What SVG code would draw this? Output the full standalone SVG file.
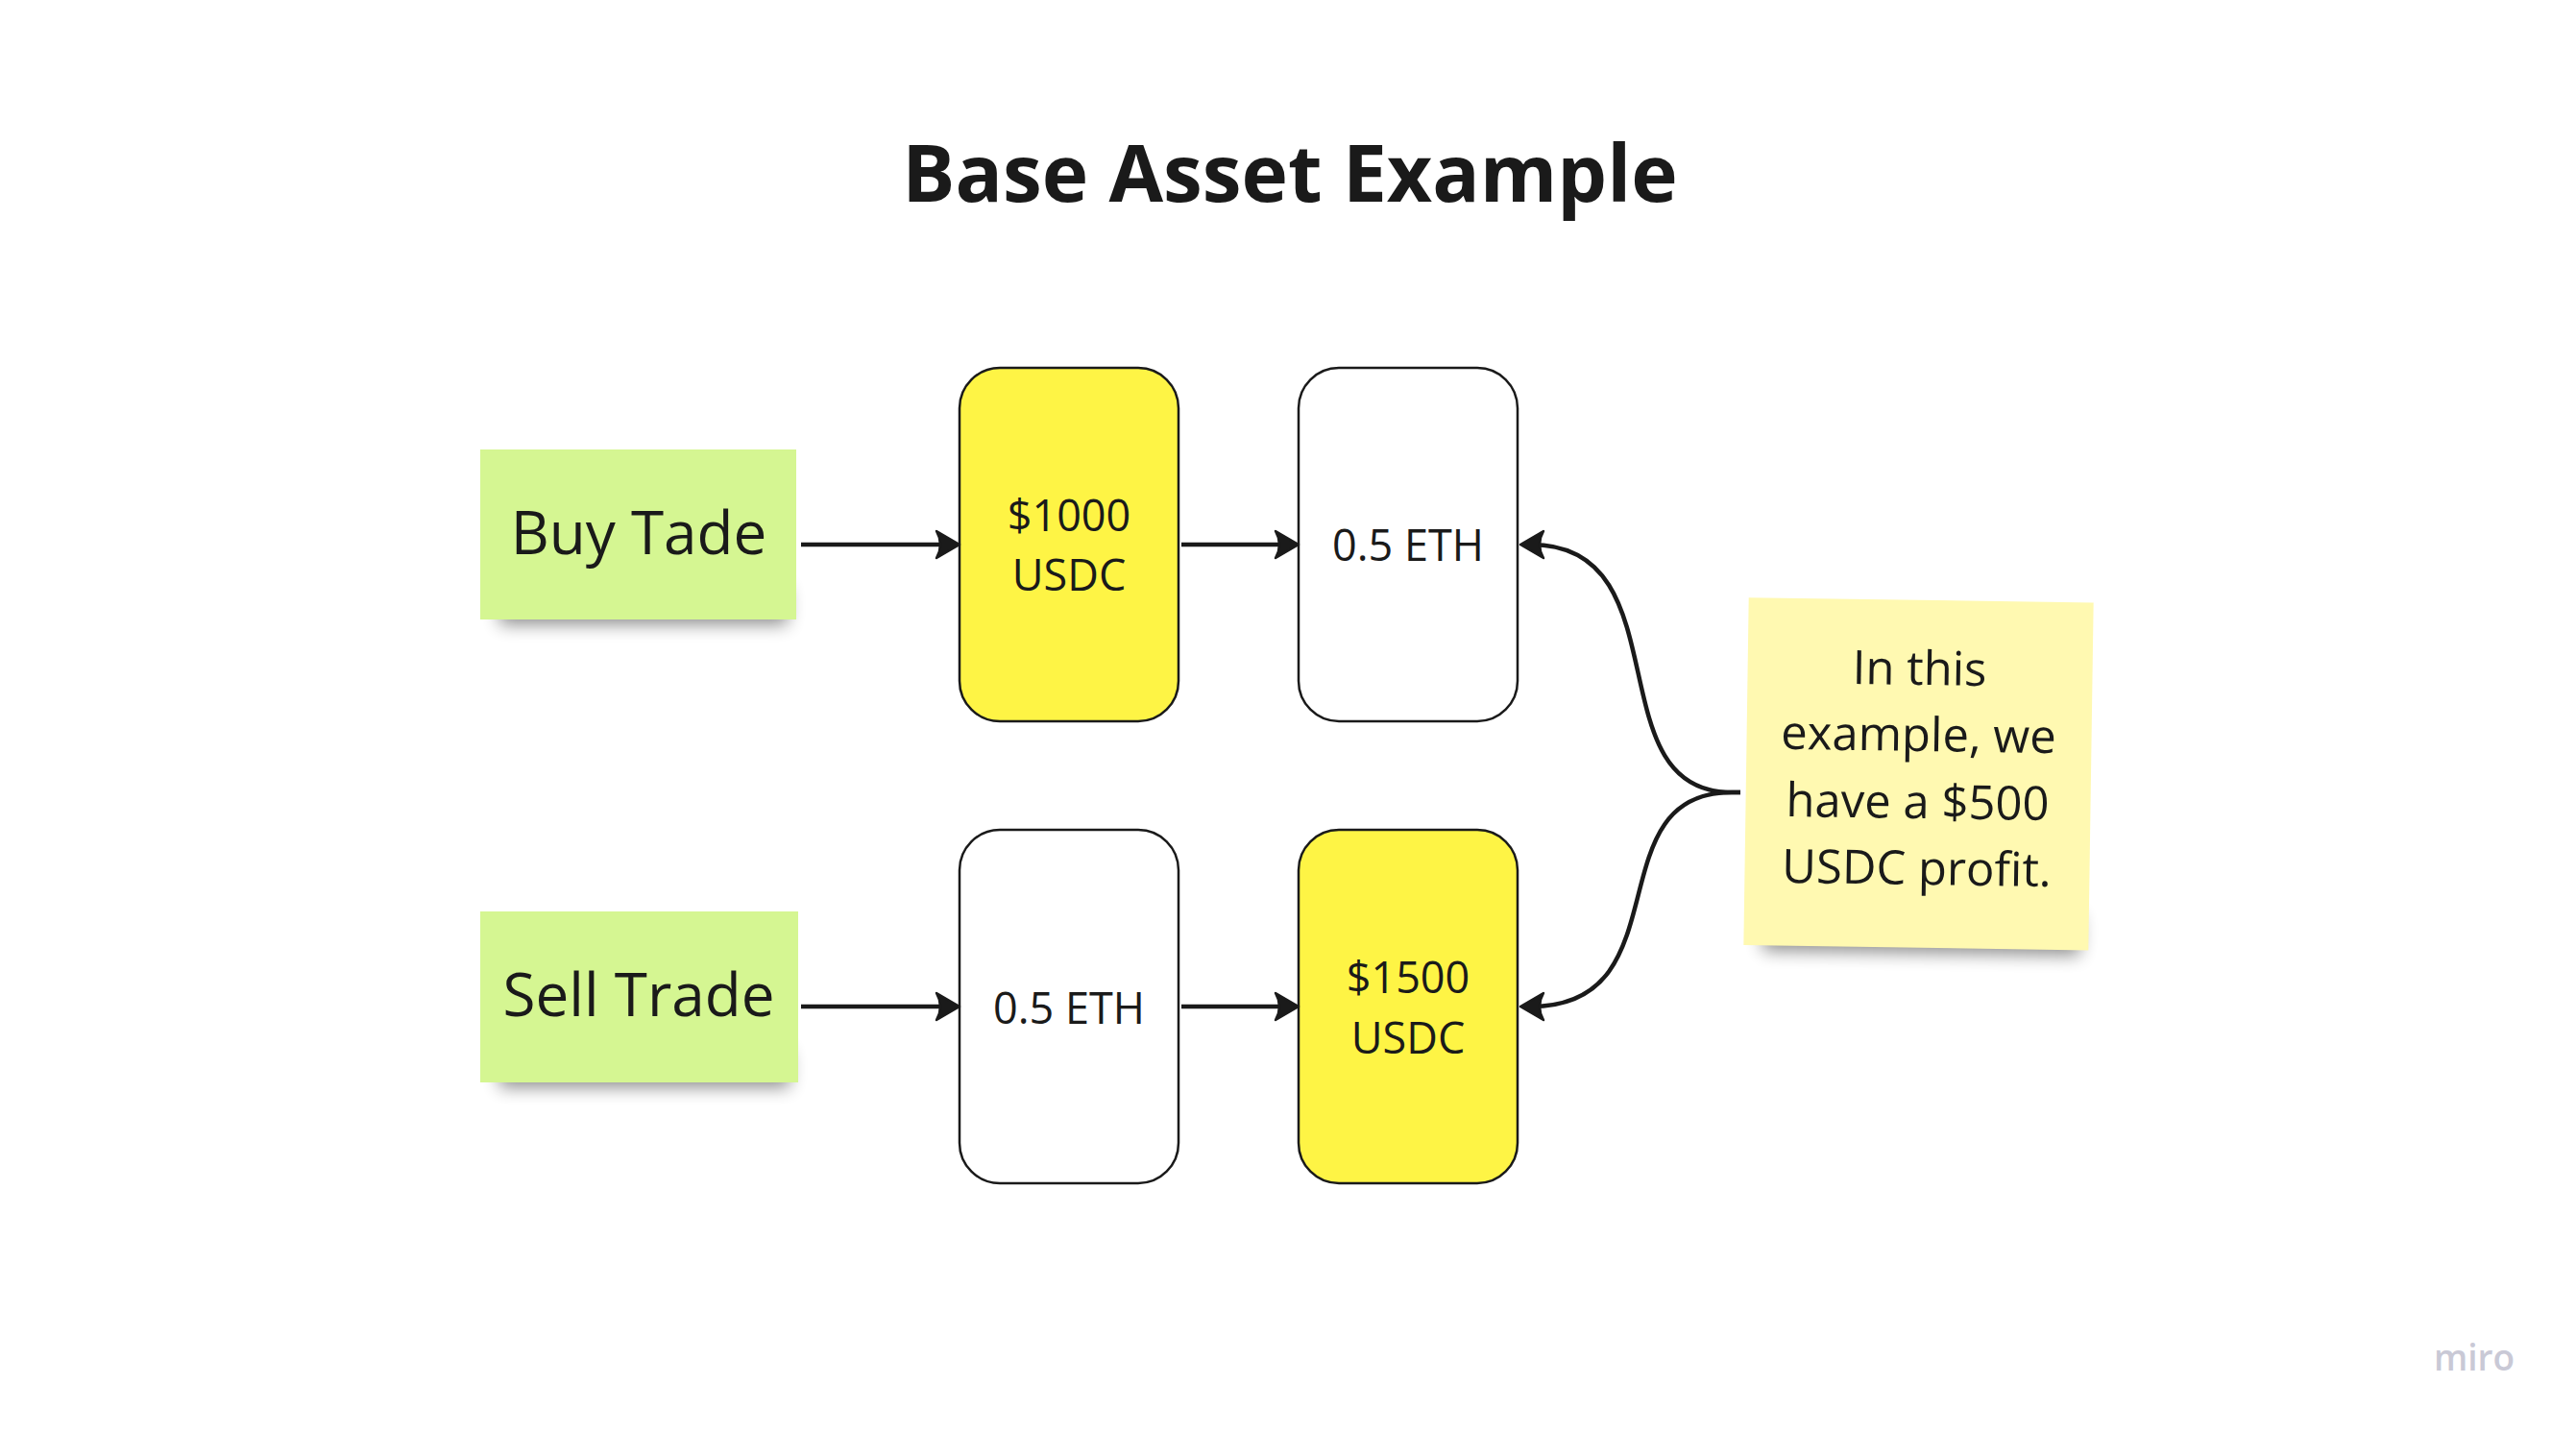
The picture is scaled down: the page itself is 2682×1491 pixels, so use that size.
<svg xmlns="http://www.w3.org/2000/svg" width="2682" height="1491" viewBox="0 0 2682 1491">
<style>
  .t { font-family: "Open Sans", "Noto Sans", "Liberation Sans", sans-serif; fill: #1a1a1a; text-anchor: middle; }
  .title { font-size: 82px; font-weight: 700; }
  .lbl { font-size: 45px; }
  .stk { font-size: 62px; }
  .note { font-size: 49px; }
  .box { stroke: #1a1a1a; stroke-width: 2.5; }
  .yel { fill: #fef445; }
  .wht { fill: #ffffff; }
  .green { fill: #d5f692; }
  .conn { fill: none; stroke: #1a1a1a; stroke-width: 4.5; }
  .shadow { fill: #000; opacity: 0.45; filter: url(#blur); }
</style>
<defs>
  <filter id="blur" x="-20%" y="-50%" width="140%" height="200%">
    <feGaussianBlur stdDeviation="9"/>
  </filter>
  <marker id="arr" markerUnits="userSpaceOnUse" markerWidth="40" markerHeight="40" refX="0" refY="0" orient="auto" overflow="visible">
    <path d="M11 0 L-13 -14 Q-5 0 -13 14 Z" fill="#1a1a1a" stroke="#1a1a1a" stroke-width="2.5" stroke-linejoin="round"/>
  </marker>
</defs>
<rect x="0" y="0" width="2682" height="1491" fill="#ffffff"/>

<g id="title">
  <text class="t title" x="1343" y="210">Base Asset Example</text>
</g>

<g id="buy-trade">
  <rect class="shadow" x="520" y="612" width="300" height="38"/>
  <rect class="green" x="500" y="468" width="329" height="177"/>
  <text class="t stk" x="665" y="577">Buy Tade</text>
</g>

<g id="sell-trade">
  <rect class="shadow" x="520" y="1094" width="302" height="38"/>
  <rect class="green" x="500" y="949" width="331" height="178"/>
  <text class="t stk" x="665" y="1058">Sell Trade</text>
</g>

<g id="usdc-1000">
  <rect class="box yel" x="999" y="383" width="228" height="368" rx="42" ry="42"/>
  <text class="t lbl" x="1113" y="553">$1000</text>
  <text class="t lbl" x="1113" y="615">USDC</text>
</g>

<g id="eth-buy">
  <rect class="box wht" x="1352" y="383" width="228" height="368" rx="42" ry="42"/>
  <text class="t lbl" x="1466" y="584">0.5 ETH</text>
</g>

<g id="eth-sell">
  <rect class="box wht" x="999" y="864" width="228" height="368" rx="42" ry="42"/>
  <text class="t lbl" x="1113" y="1066">0.5 ETH</text>
</g>

<g id="usdc-1500">
  <rect class="box yel" x="1352" y="864" width="228" height="368" rx="42" ry="42"/>
  <text class="t lbl" x="1466" y="1034">$1500</text>
  <text class="t lbl" x="1466" y="1097">USDC</text>
</g>

<g id="profit-note" transform="rotate(0.85 1997.5 805.8)">
  <rect class="shadow" x="1838" y="950" width="330" height="42"/>
  <rect x="1818" y="624.8" width="359" height="362" fill="#fff9b1"/>
  <text class="t note" x="1997" y="713">In this</text>
  <text class="t note" x="1997" y="782">example, we</text>
  <text class="t note" x="1997" y="852">have a $500</text>
  <text class="t note" x="1997" y="921">USDC profit.</text>
</g>

<g id="connectors">
  <line class="conn" x1="834" y1="567" x2="988" y2="567" marker-end="url(#arr)"/>
  <line class="conn" x1="1230" y1="567" x2="1341" y2="567" marker-end="url(#arr)"/>
  <line class="conn" x1="834" y1="1048" x2="988" y2="1048" marker-end="url(#arr)"/>
  <line class="conn" x1="1230" y1="1048" x2="1341" y2="1048" marker-end="url(#arr)"/>
  <path class="conn" d="M1812 825 L1803 825 C1659 825 1754 567 1594 567" marker-end="url(#arr)"/>
  <path class="conn" d="M1812 825 L1803 825 C1659 825 1754 1048 1594 1048" marker-end="url(#arr)"/>
</g>

<g id="watermark">
  <text x="2576" y="1427" font-family="'Open Sans', 'Noto Sans', sans-serif" font-size="37" font-weight="600" fill="#c9c9d6" text-anchor="middle">miro</text>
</g>
</svg>
